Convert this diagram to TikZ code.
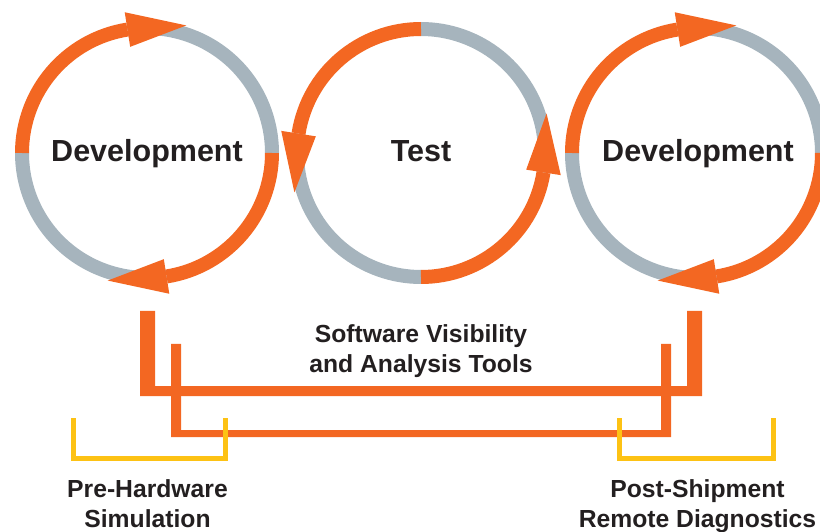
\documentclass[tikz,border=0pt]{standalone}
\usepackage{fontspec}
\setmainfont{Liberation Sans}
\usetikzlibrary{calc}
\definecolor{og}{RGB}{243,103,34}
\definecolor{gy}{RGB}{166,180,189}
\definecolor{yl}{RGB}{253,194,20}
\definecolor{tx}{RGB}{35,31,32}
\newcommand\ahead[4]{%
  \path (#1) ++(#2:#3) coordinate (tmpb);
  \fill[og] ($(tmpb)+(#2:17.5)$) -- ($(tmpb)+(#2:-17.5)$) -- ($(tmpb)+(#4:59)$) -- cycle;}
\begin{document}
\begin{tikzpicture}[x=1pt,y=1pt,
  ring/.style={line width=14pt},
  ogring/.style={ring, draw=og},
  gyring/.style={ring, draw=gy},
  ylbracket/.style={draw=yl, line width=5pt},
  big/.style={font=\bfseries\fontsize{30.5}{34}\selectfont, text=tx, inner sep=0pt, anchor=base},
  small/.style={font=\bfseries\fontsize{24.7}{29}\selectfont, text=tx, inner sep=0pt, anchor=base}]
\useasboundingbox (0,0) rectangle (820,531);
\coordinate (L) at (147,378);
\coordinate (M) at (421,378);
\coordinate (R) at (697,378);
% left circle
\draw[gyring] (L) ++(0:125) arc[start angle=0, end angle=99, radius=125];
\draw[gyring] (L) ++(180:125) arc[start angle=180, end angle=279, radius=125];
\draw[ogring] (L) ++(180:125) arc[start angle=180, end angle=99, radius=125];
\draw[ogring] (L) ++(0:125) arc[start angle=0, end angle=-81, radius=125];
\ahead{L}{99}{125}{4}
\ahead{L}{279}{125}{184}
% right circle
\draw[gyring] (R) ++(0:125) arc[start angle=0, end angle=99, radius=125];
\draw[gyring] (R) ++(180:125) arc[start angle=180, end angle=279, radius=125];
\draw[ogring] (R) ++(180:125) arc[start angle=180, end angle=99, radius=125];
\draw[ogring] (R) ++(0:125) arc[start angle=0, end angle=-81, radius=125];
\ahead{R}{99}{125}{4}
\ahead{R}{279}{125}{184}
% middle circle
\draw[gyring] (M) ++(171:124) arc[start angle=171, end angle=270, radius=124];
\draw[gyring] (M) ++(-9:124) arc[start angle=-9, end angle=90, radius=124];
\draw[ogring] (M) ++(90:124) arc[start angle=90, end angle=171, radius=124];
\draw[ogring] (M) ++(270:124) arc[start angle=270, end angle=351, radius=124];
\ahead{M}{171}{124}{266}
\ahead{M}{351}{124}{87}
% orange brackets
\fill[og] (140,220) -- (140,135) -- (702,135) -- (702,220) -- (687,220) -- (687,145) -- (155,145) -- (155,220) -- cycle;
\fill[og] (171,187) -- (171,94) -- (671,94) -- (671,187) -- (661,187) -- (661,101) -- (181,101) -- (181,187) -- cycle;
% yellow brackets
\draw[ylbracket] (73.5,113) -- (73.5,73) -- (225.5,73) -- (225.5,113);
\draw[ylbracket] (619.5,113) -- (619.5,73) -- (773.5,73) -- (773.5,113);
% texts
\node[big] (dev1) at (147,369) {Development};
\node[big] (test) at (421,369) {Test};
\node[big] (dev2) at (698,369) {Development};
\node[small] (sv1) at (421,188) {Software Visibility};
\node[small] (sv2) at (421,159) {and Analysis Tools};
\node[small] (ph1) at (147.5,34) {Pre-Hardware};
\node[small] (ph2) at (147.5,4) {Simulation};
\node[small] (ps1) at (697.5,34) {Post-Shipment};
\node[small] (ps2) at (697.5,4) {Remote Diagnostics};
\end{tikzpicture}
\end{document}
